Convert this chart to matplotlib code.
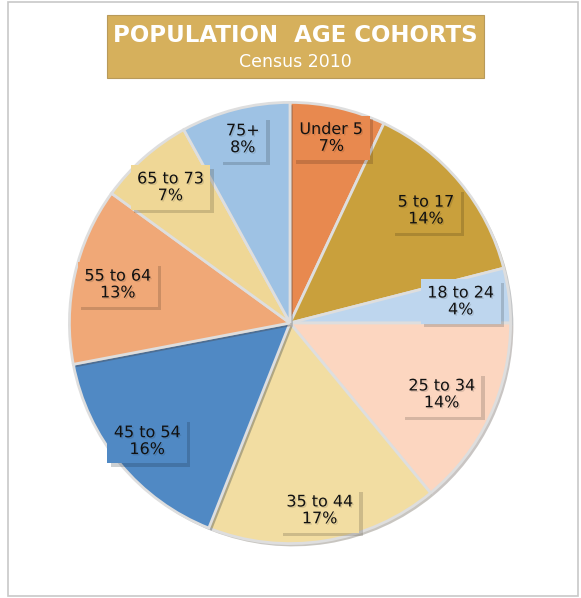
import numpy as np
import matplotlib.pyplot as plt
import matplotlib.patheffects as pe
from matplotlib.patches import Rectangle

# data
cohorts = ["Under 5", "5 to 17", "18 to 24", "25 to 34", "35 to 44",
           "45 to 54", "55 to 64", "65 to 73", "75+"]
shares = [7, 14, 4, 14, 17, 16, 13, 7, 8]
colors = ["#E8894F", "#C9A03C", "#BED6EE", "#FCD6C0", "#F2DDA2",
          "#5089C4", "#F0A877", "#EFD796", "#9EC2E4"]

# label distance from centre per slice (layout only)
label_r = [0.86, 0.80, 0.78, 0.76, 0.86, 0.84, 0.80, 0.82, 0.86]

fig = plt.figure(figsize=(5.81, 5.98), dpi=100)
fig.patch.set_facecolor("white")

# light frame around the whole chart
fig.patches.append(Rectangle((8 / 581, 2 / 598), 570 / 581, 594 / 598,
                             transform=fig.transFigure, fill=False,
                             edgecolor="#c8c8c8", linewidth=1.2))

# title box
fig.patches.append(Rectangle((107 / 581, 1 - 78 / 598), 377 / 581, 63 / 598,
                             transform=fig.transFigure, facecolor="#D6B05C",
                             edgecolor="#b89a5a", linewidth=0.8))
fig.text(0.509, 1 - 35 / 598, "POPULATION  AGE COHORTS", color="white",
         fontsize=16.5, fontweight="bold", family="DejaVu Sans",
         ha="center", va="center")
fig.text(0.509, 1 - 62 / 598, "Census 2010", color="white",
         fontsize=12.5, family="DejaVu Sans", ha="center", va="center")

ax = fig.add_axes([65 / 581, (598 - 548) / 598, 450 / 581, 450 / 598])
wedges, _ = ax.pie(shares, colors=colors, startangle=90, counterclock=False,
                   radius=1.0,
                   wedgeprops=dict(edgecolor="#dedede", linewidth=2.0))
for w in wedges:
    w.set_path_effects([pe.SimplePatchShadow(offset=(2, -2), alpha=0.3),
                        pe.Normal()])

ax.set_xlim(-1.02, 1.02)
ax.set_ylim(-1.02, 1.02)
ax.set_aspect("equal")
ax.axis("off")

total = sum(shares)
start = 90.0
for name, val, col, r in zip(cohorts, shares, colors, label_r):
    mid = np.deg2rad(start - val / total * 360 / 2)
    start -= val / total * 360
    t = ax.text(r * np.cos(mid), r * np.sin(mid), f"{name}\n{val}%",
                ha="center", va="center", fontsize=11.5, color="#111111",
                family="DejaVu Sans", linespacing=1.15,
                bbox=dict(boxstyle="square,pad=0.4", facecolor=col,
                          edgecolor="none"))
    t.set_path_effects([pe.withSimplePatchShadow(offset=(1, -1), alpha=0.12)])
    t.get_bbox_patch().set_path_effects(
        [pe.SimplePatchShadow(offset=(2.5, -2.5), alpha=0.22), pe.Normal()])

fig.savefig("out.png", dpi=100)
